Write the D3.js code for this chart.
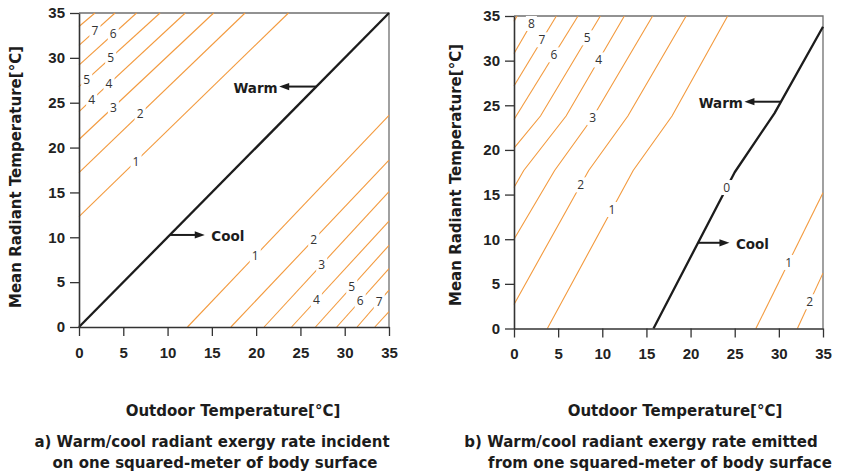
<!DOCTYPE html>
<html>
<head>
<meta charset="utf-8">
<script src="https://cdn.jsdelivr.net/npm/d3@7"></script>
<style>
  html, body { margin: 0; padding: 0; background: #fff; }
  svg { display: block; }
</style>
</head>
<body>
<svg id="chart" width="848" height="475"></svg>
<script>
// ---- shared axis ticks ----
const tickValues = [0, 5, 10, 15, 20, 25, 30, 35];

// ---- panel (a): exergy rate incident on the body surface ----
// each iso-line: [outdoor temperature, mean radiant temperature] points
const aWarmLines = [
  [[0, 12.3], [23.65, 35]],
  [[0, 17.2], [18.75, 35]],
  [[0, 20.9], [15.2, 35]],
  [[0, 24.0], [12.0, 35]],
  [[0, 26.8], [9.15, 35]],
  [[0, 29.2], [6.5, 35]],
  [[0, 31.4], [4.07, 35]],
  [[0, 33.5], [1.8, 35]]
];
const aCoolLines = [
  [[12.25, 0], [35, 23.6]],
  [[17.15, 0], [35, 18.6]],
  [[20.9, 0], [35, 15.1]],
  [[24.0, 0], [35, 11.8]],
  [[26.7, 0], [35, 9.1]],
  [[29.1, 0], [35, 6.5]],
  [[31.4, 0], [35, 4.1]],
  [[33.4, 0], [35, 1.7]]
];
const aZeroLine = [[0, 0], [35, 35]];
// contour labels: [level, outdoor temperature along the line]
const aWarmLabels = [[1, 6.44], [2, 6.9], [3, 3.88], [4, 3.39], [4, 1.43], [5, 3.58], [5, 0.87], [6, 3.87], [7, 1.8]];
const aCoolLabels = [[1, 19.9], [2, 26.5], [3, 27.4], [4, 26.8], [5, 30.8], [6, 31.75], [7, 33.9]];
// Warm / Cool pointers: mean radiant temperature of the arrow, outdoor temperature of its tip
const aArrows = [
  { text: "Warm", mrt: 26.8, tip: 22.6 },
  { text: "Cool", mrt: 10.26, tip: 14.2 }
];

// ---- panel (b): exergy rate emitted from the body surface ----
const bWarmLines = [
  [[3.78, 0], [13.5, 17.7], [17.9, 23.8], [24.2, 35]],
  [[0, 2.7], [8.46, 17.7], [12.9, 23.8], [19.5, 35]],
  [[0, 10.0], [4.6, 17.7], [8.9, 23.6], [15.7, 35]],
  [[0, 15.8], [1.1, 17.7], [5.9, 23.8], [12.5, 35]],
  [[0, 20.2], [3.0, 23.8], [9.78, 35]],
  [[0, 23.4], [7.25, 35]],
  [[0, 27.15], [4.8, 35]],
  [[0, 30.8], [2.46, 35]],
  [[0, 34.4], [0.35, 35]]
];
const bCoolLines = [
  [[27.4, 0], [35, 15.2]],
  [[32.1, 0], [35, 6.2]]
];
const bZeroLine = [[15.8, 0], [25.0, 17.5], [29.5, 24.1], [35, 33.8]];
const bWarmLabels = [[1, 11.1], [2, 7.55], [3, 8.9], [4, 9.6], [5, 8.3], [6, 4.53], [7, 3.17], [8, 1.97]];
const bCoolLabels = [[1, 31.1], [2, 33.5]];
const bZeroLabel = 24.1;
const bArrows = [
  { text: "Warm", mrt: 25.4, tip: 26.1 },
  { text: "Cool", mrt: 9.6, tip: 24.4 }
];

// ---- text ----
const xTitle = "Outdoor Temperature[°C]";
const yTitle = "Mean Radiant Temperature[°C]";
const aCaption = ["a) Warm/cool radiant exergy rate incident", "on one squared-meter of body surface"];
const bCaption = ["b) Warm/cool radiant exergy rate emitted", "from one squared-meter of body surface"];

// ---- styling ----
const ORANGE = "#f39a3e";
const INK = "#1c1c1c";
const TITLE_FONT = "'DejaVu Sans', sans-serif";
const TICK_FONT = "'Liberation Sans', Arial, sans-serif";

const svg = d3.select("#chart");

// y of a polyline at a given x (linear between points)
function yAt(pts, xv) {
  for (let i = 0; i < pts.length - 1; i++) {
    const [x0, y0] = pts[i], [x1, y1] = pts[i + 1];
    if (xv >= x0 && xv <= x1) return y0 + (y1 - y0) * (xv - x0) / (x1 - x0);
  }
  return pts[pts.length - 1][1];
}
// x of a polyline at a given y
function xAt(pts, yv) {
  for (let i = 0; i < pts.length - 1; i++) {
    const [x0, y0] = pts[i], [x1, y1] = pts[i + 1];
    if (yv >= Math.min(y0, y1) && yv <= Math.max(y0, y1)) return x0 + (x1 - x0) * (yv - y0) / (y1 - y0);
  }
  return pts[pts.length - 1][0];
}

function drawPanel(cfg) {
  const x = d3.scaleLinear().domain([0, 35]).range(cfg.xRange);
  const y = d3.scaleLinear().domain([0, 35]).range(cfg.yRange);
  const g = svg.append("g");
  const line = d3.line().x(d => x(d[0])).y(d => y(d[1]));

  // frame (top and right)
  g.append("path")
    .attr("d", `M${x(0)},${y(35)}H${x(35)}V${y(0)}`)
    .attr("fill", "none").attr("stroke", "#6f6f6f").attr("stroke-width", 1.3);

  // iso-lines
  g.append("g").selectAll("path")
    .data(cfg.warm.concat(cfg.cool))
    .join("path")
    .attr("d", line)
    .attr("fill", "none").attr("stroke", ORANGE).attr("stroke-width", 1.1);

  // zero line
  g.append("path").attr("d", line(cfg.zero))
    .attr("fill", "none").attr("stroke", INK).attr("stroke-width", 2.3)
    .attr("stroke-linejoin", "round");

  // contour labels (white knock-out behind each number breaks its line)
  const labels = [];
  cfg.warmLabels.forEach(([lv, xv]) => labels.push({ t: lv, x: xv, y: yAt(cfg.warm[lv - 1], xv) }));
  cfg.coolLabels.forEach(([lv, xv]) => labels.push({ t: lv, x: xv, y: yAt(cfg.cool[lv - 1], xv) }));
  if (cfg.zeroLabel != null) labels.push({ t: 0, x: cfg.zeroLabel, y: yAt(cfg.zero, cfg.zeroLabel) });
  const lg = g.append("g")
    .attr("font-family", "'Open Sans', sans-serif")
    .attr("font-size", 12)
    .attr("text-anchor", "middle");
  lg.selectAll("rect")
    .data(labels)
    .join("rect")
    .attr("x", d => x(d.x) - 5.5).attr("y", d => y(d.y) - 7.5)
    .attr("width", 11).attr("height", 15)
    .attr("fill", "#fff");
  lg.selectAll("text")
    .data(labels)
    .join("text")
    .attr("x", d => x(d.x))
    .attr("y", d => y(d.y))
    .attr("dy", "0.36em")
    .attr("fill", "#333")
    .text(d => d.t);

  // Warm / Cool pointers
  cfg.arrows.forEach(a => {
    const yy = y(a.mrt);
    const x0 = x(xAt(cfg.zero, a.mrt));
    const x1 = x(a.tip);
    const dir = Math.sign(x1 - x0);
    g.append("line")
      .attr("x1", x0).attr("y1", yy).attr("x2", x1 - dir * 6).attr("y2", yy)
      .attr("stroke", INK).attr("stroke-width", 2);
    g.append("path")
      .attr("d", `M${x1},${yy}L${x1 - dir * 10},${yy - 3.6}L${x1 - dir * 10},${yy + 3.6}Z`)
      .attr("fill", INK);
    g.append("text")
      .attr("x", x1 + dir * (dir < 0 ? 1.5 : 6.5))
      .attr("y", yy + 6)
      .attr("text-anchor", dir < 0 ? "end" : "start")
      .attr("font-family", TITLE_FONT).attr("font-weight", "bold").attr("font-size", 13.5)
      .attr("fill", INK)
      .text(a.text);
  });

  // axes
  const axB = g.append("g").attr("transform", `translate(0,${y(0)})`)
    .call(d3.axisBottom(x).tickValues(tickValues).tickSize(9).tickSizeOuter(0).tickPadding(11));
  const axL = g.append("g").attr("transform", `translate(${x(0)},0)`)
    .call(d3.axisLeft(y).tickValues(tickValues).tickSize(9).tickSizeOuter(0).tickPadding(5));
  [axB, axL].forEach(ax => {
    ax.select(".domain").attr("stroke", "#333").attr("stroke-width", 1.6);
    ax.selectAll(".tick line").attr("stroke", "#333").attr("stroke-width", 1.3);
    ax.selectAll(".tick text")
      .attr("font-family", TICK_FONT).attr("font-weight", "bold").attr("font-size", 15)
      .attr("fill", "#222");
  });

  // axis titles
  g.append("text")
    .attr("x", cfg.xTitleX).attr("y", 416)
    .attr("text-anchor", "middle")
    .attr("font-family", TITLE_FONT).attr("font-weight", "bold").attr("font-size", 15)
    .attr("fill", INK).text(xTitle);
  g.append("text")
    .attr("transform", `translate(${cfg.yTitleX},${cfg.yTitleY}) rotate(-90)`)
    .attr("text-anchor", "middle")
    .attr("font-family", TITLE_FONT).attr("font-weight", "bold").attr("font-size", 15)
    .attr("fill", INK).text(yTitle);

  // caption
  cfg.caption.forEach((t, i) => {
    g.append("text")
      .attr("x", cfg.captionX[i]).attr("y", 447 + i * 21)
      .attr("text-anchor", "middle")
      .attr("font-family", TITLE_FONT).attr("font-weight", "bold").attr("font-size", 15)
      .attr("fill", INK).text(t);
  });
}

drawPanel({
  xRange: [79, 389], yRange: [327, 13],
  warm: aWarmLines, cool: aCoolLines, zero: aZeroLine,
  warmLabels: aWarmLabels, coolLabels: aCoolLabels, zeroLabel: null,
  arrows: aArrows,
  xTitleX: 233, yTitleX: 21, yTitleY: 177,
  caption: aCaption, captionX: [212, 215]
});

drawPanel({
  xRange: [514, 823], yRange: [328.5, 16],
  warm: bWarmLines, cool: bCoolLines, zero: bZeroLine,
  warmLabels: bWarmLabels, coolLabels: bCoolLabels, zeroLabel: bZeroLabel,
  arrows: bArrows,
  xTitleX: 675, yTitleX: 461, yTitleY: 175,
  caption: bCaption, captionX: [641, 660]
});
</script>
</body>
</html>
